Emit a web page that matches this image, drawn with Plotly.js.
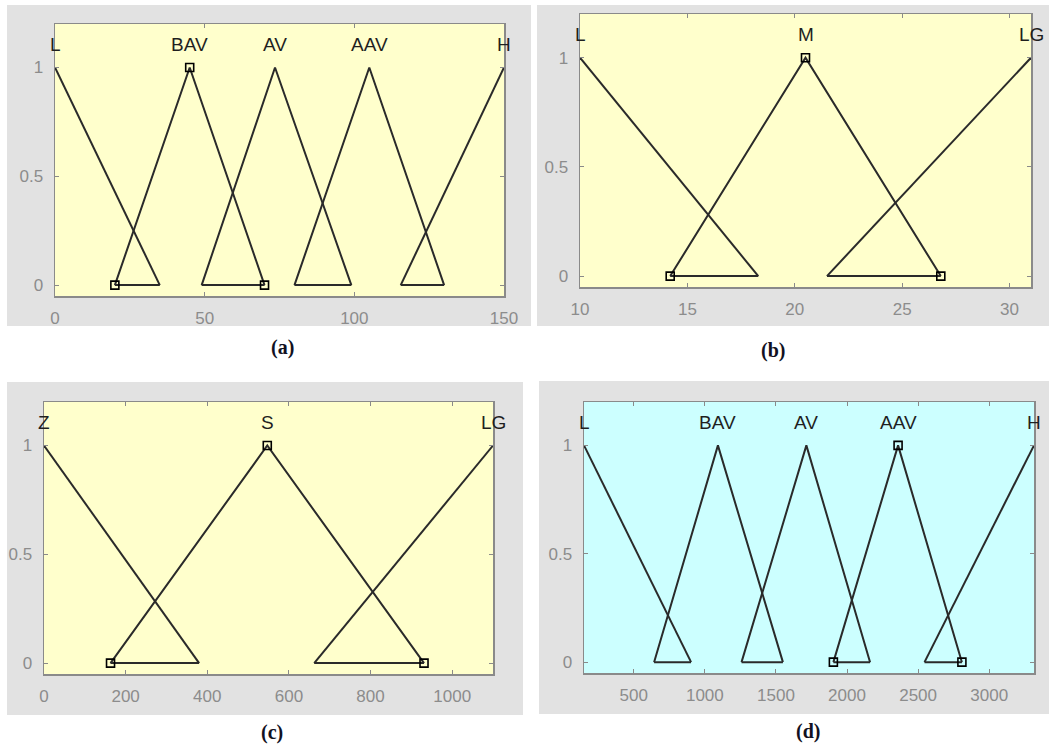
<!DOCTYPE html>
<html>
<head>
<meta charset="utf-8">
<script src="https://cdn.plot.ly/plotly-3.0.1.min.js"></script>
<style>html,body{margin:0;padding:0;background:#fff;}#chart{width:1049px;height:747px;}</style>
</head>
<body>
<div id="chart"></div>
<script>
// Panel (a)
const namesA = ["L", "BAV", "AV", "AAV", "H"];
const footLeftA = [0, 20, 49, 80, 115.5];
const peakA = [0, 45, 73.5, 105, 150];
const footRightA = [35, 70, 99, 130, 150];
const rangeA = [0, 150];
const ticksA = [0, 50, 100, 150];
const selectedA = 1;

// Panel (b)
const namesB = ["L", "M", "LG"];
const footLeftB = [10, 14.2, 21.5];
const peakB = [10, 20.5, 31];
const footRightB = [18.3, 26.8, 31];
const rangeB = [10, 31];
const ticksB = [10, 15, 20, 25, 30];
const selectedB = 1;

// Panel (c)
const namesC = ["Z", "S", "LG"];
const footLeftC = [0, 163, 662];
const peakC = [0, 547, 1100];
const footRightC = [380, 931, 1100];
const rangeC = [0, 1100];
const ticksC = [0, 200, 400, 600, 800, 1000];
const selectedC = 1;

// Panel (d)
const namesD = ["L", "BAV", "AV", "AAV", "H"];
const footLeftD = [150, 643, 1258, 1904, 2545];
const peakD = [150, 1092, 1714, 2359, 3315];
const footRightD = [903, 1549, 2162, 2808, 3315];
const rangeD = [150, 3315];
const ticksD = [500, 1000, 1500, 2000, 2500, 3000];
const selectedD = 3;

const yRange = [-0.05, 1.2];
const yTicks = [0, 0.5, 1];
const captions = ["(a)", "(b)", "(c)", "(d)"];

const W = 1049, H = 747;
const px = v => v / W;
const py = v => 1 - v / H;

const panels = [
  {names: namesA, fl: footLeftA, pk: peakA, fr: footRightA, range: rangeA, ticks: ticksA, sel: selectedA,
   plot: [55, 504, 24, 296], gray: [7, 531, 5, 326], bg: "#ffffcc", cap: [282, 347]},
  {names: namesB, fl: footLeftB, pk: peakB, fr: footRightB, range: rangeB, ticks: ticksB, sel: selectedB,
   plot: [580, 1031, 14, 287], gray: [537, 1049, 5, 326], bg: "#ffffcc", cap: [773, 350]},
  {names: namesC, fl: footLeftC, pk: peakC, fr: footRightC, range: rangeC, ticks: ticksC, sel: selectedC,
   plot: [44, 493, 402, 674], gray: [7, 523, 382, 715], bg: "#ffffcc", cap: [272, 732]},
  {names: namesD, fl: footLeftD, pk: peakD, fr: footRightD, range: rangeD, ticks: ticksD, sel: selectedD,
   plot: [584, 1034, 402, 673], gray: [539, 1049, 381, 714], bg: "#ccffff", cap: [808, 731]}
];

const traces = [];
const shapes = [];
const annotations = [];
const layout = {
  width: W, height: H,
  margin: {l: 0, r: 0, t: 0, b: 0},
  paper_bgcolor: "#ffffff",
  plot_bgcolor: "rgba(0,0,0,0)",
  showlegend: false,
  font: {family: "Liberation Sans, Arial, sans-serif"}
};

const lineColor = "#2a2a2a";
const axisColor = "#8a8a8a";
const tickFont = {family: "Liberation Sans, Arial, sans-serif", size: 17, color: "#8c8c8c"};

panels.forEach((p, i) => {
  const n = i + 1;
  const xa = n === 1 ? "x" : "x" + n;
  const ya = n === 1 ? "y" : "y" + n;
  const xKey = n === 1 ? "xaxis" : "xaxis" + n;
  const yKey = n === 1 ? "yaxis" : "yaxis" + n;

  shapes.push({type: "rect", xref: "paper", yref: "paper", layer: "below",
    x0: px(p.gray[0]), x1: px(p.gray[1]), y0: py(p.gray[3]), y1: py(p.gray[2]),
    fillcolor: "#e2e2e2", line: {width: 0}});
  shapes.push({type: "rect", xref: xa + " domain", yref: ya + " domain", layer: "below",
    x0: 0, x1: 1, y0: 0, y1: 1, fillcolor: p.bg, line: {width: 0}});

  layout[xKey] = {
    domain: [px(p.plot[0]), px(p.plot[1])],
    anchor: ya, range: p.range, tickvals: p.ticks,
    showgrid: false, zeroline: false,
    showline: true, linecolor: axisColor, linewidth: 1.5, mirror: "ticks",
    ticks: "inside", ticklen: 4, tickcolor: axisColor, tickwidth: 1,
    tickfont: tickFont, ticklabelstandoff: 6, fixedrange: true
  };
  layout[yKey] = {
    domain: [py(p.plot[3]), py(p.plot[2])],
    anchor: xa, range: yRange, tickvals: yTicks,
    showgrid: false, zeroline: false,
    showline: true, linecolor: axisColor, linewidth: 1.5, mirror: "ticks",
    ticks: "inside", ticklen: 4, tickcolor: axisColor, tickwidth: 1,
    tickfont: tickFont, ticklabelstandoff: 7, fixedrange: true
  };

  p.names.forEach((name, k) => {
    const xs = [], ys = [];
    if (p.fl[k] !== p.pk[k]) { xs.push(p.fl[k]); ys.push(0); }
    xs.push(p.pk[k]); ys.push(1);
    if (p.fr[k] !== p.pk[k]) { xs.push(p.fr[k]); ys.push(0); }
    traces.push({type: "scatter", mode: "lines", x: xs, y: ys, xaxis: xa, yaxis: ya,
      line: {color: lineColor, width: 2}, hoverinfo: "skip"});
    annotations.push({xref: xa, yref: ya, x: p.pk[k], y: 1.105, text: name, showarrow: false,
      xanchor: "center", yanchor: "middle",
      font: {family: "Liberation Sans, Arial, sans-serif", size: 19, color: "#1f1f1f"}});
  });
  for (let k = 0; k < p.names.length - 1; k++) {
    traces.push({type: "scatter", mode: "lines", x: [p.fl[k + 1], p.fr[k]], y: [0, 0],
      xaxis: xa, yaxis: ya, line: {color: lineColor, width: 2}, hoverinfo: "skip"});
  }
  const s = p.sel;
  traces.push({type: "scatter", mode: "markers", x: [p.fl[s], p.pk[s], p.fr[s]], y: [0, 1, 0],
    xaxis: xa, yaxis: ya, cliponaxis: false,
    marker: {symbol: "square-open", size: 8, color: "#000000", line: {width: 1.6, color: "#000000"}},
    hoverinfo: "skip"});

  annotations.push({xref: "paper", yref: "paper", x: px(p.cap[0]), y: py(p.cap[1]),
    text: "<b>" + captions[i] + "</b>", showarrow: false, xanchor: "center", yanchor: "middle",
    font: {family: "Liberation Serif, Times New Roman, serif", size: 20, color: "#111122"}});
});

layout.shapes = shapes;
layout.annotations = annotations;

Plotly.newPlot("chart", traces, layout, {staticPlot: true, displayModeBar: false});
</script>
</body>
</html>
